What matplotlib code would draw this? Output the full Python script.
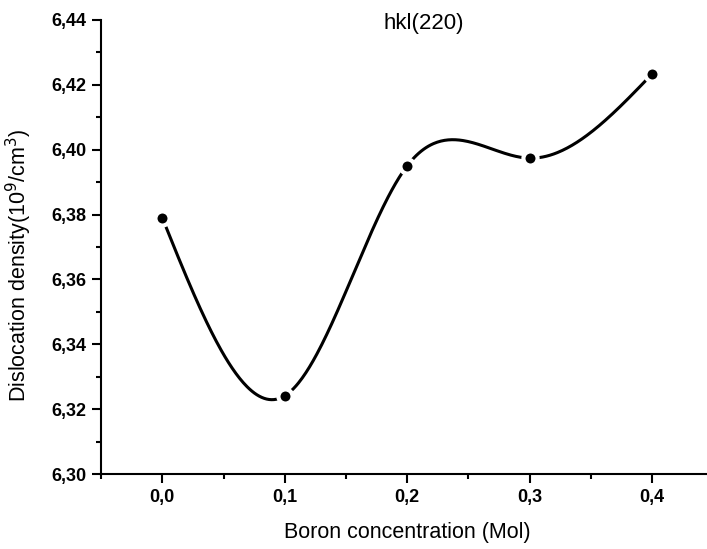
import numpy as np
import matplotlib.pyplot as plt
from matplotlib.ticker import MultipleLocator, FuncFormatter

# Dati
boron = [0.0, 0.1, 0.2, 0.3, 0.4]
density = [6.379, 6.3241, 6.395, 6.3974, 6.4233]
y_ticks = [6.30, 6.32, 6.34, 6.36, 6.38, 6.40, 6.42, 6.44]
x_ticks = [0.0, 0.1, 0.2, 0.3, 0.4]


# Spline cubica naturale (come la connessione "Spline" di Origin)
def natural_spline(x, y, n=400):
    x = np.asarray(x, float)
    y = np.asarray(y, float)
    k = len(x)
    h = np.diff(x)
    A = np.zeros((k, k))
    r = np.zeros(k)
    A[0, 0] = A[-1, -1] = 1
    for i in range(1, k - 1):
        A[i, i - 1] = h[i - 1]
        A[i, i] = 2 * (h[i - 1] + h[i])
        A[i, i + 1] = h[i]
        r[i] = 3 * ((y[i + 1] - y[i]) / h[i] - (y[i] - y[i - 1]) / h[i - 1])
    c = np.linalg.solve(A, r)
    xs = np.linspace(x[0], x[-1], n)
    idx = np.clip(np.searchsorted(x, xs) - 1, 0, k - 2)
    dx = xs - x[idx]
    b = (y[idx + 1] - y[idx]) / h[idx] - h[idx] * (2 * c[idx] + c[idx + 1]) / 3
    d = (c[idx + 1] - c[idx]) / (3 * h[idx])
    ys = y[idx] + b * dx + c[idx] * dx ** 2 + d * dx ** 3
    return xs, ys


plt.rcParams['font.family'] = ['Liberation Sans', 'DejaVu Sans']

fig = plt.figure(figsize=(7.07, 5.49), dpi=100)
ax = fig.add_axes([0.143, 0.1366, 0.857, 0.827])

xs, ys = natural_spline(boron, density)
ax.plot(xs, ys, color='black', linewidth=2.2, zorder=2)
ax.plot(boron, density, 'o', color='black', markersize=10.2,
        markeredgecolor='white', markeredgewidth=3, zorder=3, clip_on=False)

ax.set_xlim(-0.05, 0.445)
ax.set_ylim(6.30, 6.44)
ax.set_xticks(x_ticks)
ax.set_yticks(y_ticks)
ax.xaxis.set_minor_locator(MultipleLocator(0.05))
ax.yaxis.set_minor_locator(MultipleLocator(0.01))

comma = lambda fmt: FuncFormatter(lambda v, p: (fmt % v).replace('.', ','))
ax.xaxis.set_major_formatter(comma('%.1f'))
ax.yaxis.set_major_formatter(comma('%.2f'))

for s in ['top', 'right']:
    ax.spines[s].set_visible(False)
for s in ['left', 'bottom']:
    ax.spines[s].set_linewidth(1.5)

ax.tick_params(which='major', direction='out', length=6.5, width=1.5,
               labelsize=13, pad=4)
ax.tick_params(which='minor', direction='out', length=3.6, width=1.5)
for lab in ax.get_xticklabels() + ax.get_yticklabels():
    lab.set_fontweight('bold')

ax.set_xlabel('Boron concentration (Mol)', fontsize=15.5)
ax.xaxis.set_label_coords(0.506, -0.106)
ax.set_ylabel('Dislocation density(10$^9$/cm$^3$)', fontsize=15.5)
ax.yaxis.set_label_coords(-0.11, 0.46)
ax.text(0.533, 0.993, 'hkl(220)', transform=ax.transAxes, fontsize=16,
        ha='center', va='center')

plt.savefig('out.png', dpi=100)
